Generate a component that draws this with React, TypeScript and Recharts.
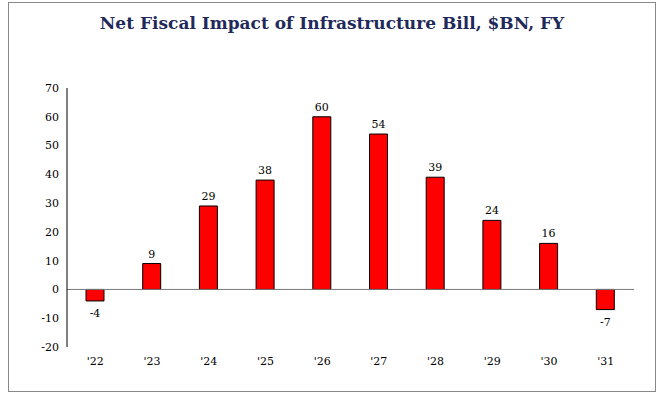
import React from "react";
import { BarChart, Bar, XAxis, YAxis, ReferenceLine, LabelList } from "recharts";

const categories = ["'22", "'23", "'24", "'25", "'26", "'27", "'28", "'29", "'30", "'31"];
const values = [-4, 9, 29, 38, 60, 54, 39, 24, 16, -7];
const yTicks = [-20, -10, 0, 10, 20, 30, 40, 50, 60, 70];

const data = categories.map((c, i) => ({ name: c, value: values[i] }));
const font = "'DejaVu Serif', serif";

export default function App() {
  return (
    <div style={{ position: "absolute", left: 8, top: 2, width: 646, height: 388, border: "1px solid #888", background: "#fff", fontFamily: font }}>
      <div style={{ position: "absolute", top: 10, width: "100%", textAlign: "center", color: "#1f2a5a", fontWeight: "bold", fontSize: 17 }}>
        Net Fiscal Impact of Infrastructure Bill, $BN, FY
      </div>
      <BarChart width={646} height={388} data={data} margin={{ top: 85, right: 21, left: 0, bottom: 22 }} barSize={18}>
        <YAxis domain={[-20, 70]} ticks={yTicks} width={58} tickLine={false} axisLine={{ stroke: "#000" }}
          tick={{ fill: "#000", fontSize: 11, fontFamily: font }} interval={0} />
        <XAxis dataKey="name" axisLine={false} tickLine={false} height={22}
          tick={{ fill: "#000", fontSize: 11, fontFamily: font }} tickMargin={4} />
        <ReferenceLine y={0} stroke="#777" />
        <Bar dataKey="value" fill="#ff0000" stroke="#000" strokeWidth={1} isAnimationActive={false}>
          <LabelList dataKey="value" position="top" offset={6} style={{ fill: "#000", fontSize: 11, fontFamily: font }}
            content={(p: any) => {
              const neg = p.value < 0;
              const x = p.x + p.width / 2;
              const y = neg ? p.y + p.height + 0 : p.y;
              // For negative bars recharts gives y at 0 and negative height
              const top = Math.min(p.y, p.y + p.height);
              const bottom = Math.max(p.y, p.y + p.height);
              return (
                <text x={x} y={neg ? bottom + 16 : top - 6} textAnchor="middle" fill="#000" fontSize={11} fontFamily={font}>
                  {p.value}
                </text>
              );
            }} />
        </Bar>
      </BarChart>
    </div>
  );
}
